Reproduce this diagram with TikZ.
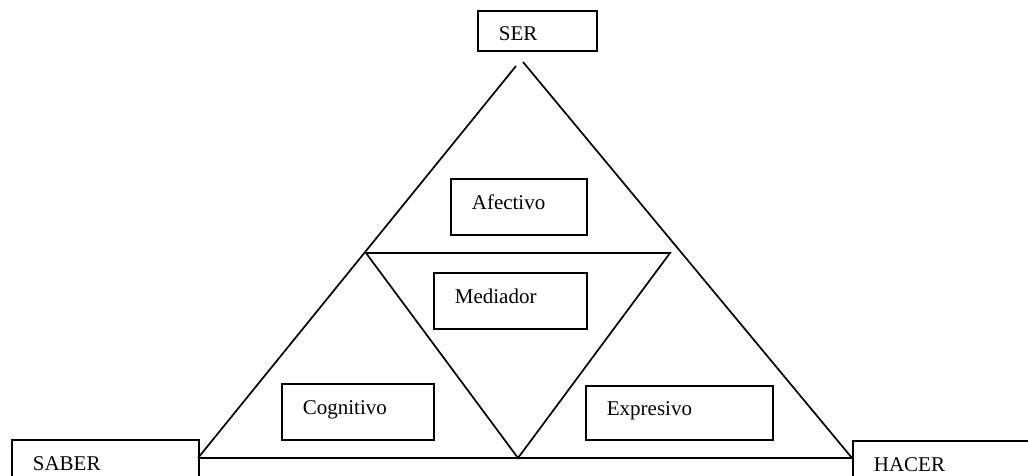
\documentclass[tikz,border=0pt]{standalone}
\usepackage{fontspec}
\setmainfont{Liberation Serif}
\tikzset{
  caja/.style={draw, line width=1.7pt, anchor=north west, inner xsep=21pt, inner ysep=0pt,
    align=left, text height=14pt, text depth=8pt, minimum height=56pt,
    font=\fontsize{21}{24}\selectfont},
  lado/.style={line width=1.7pt}
}
\begin{document}
\begin{tikzpicture}[x=1pt,y=-1pt]
    \useasboundingbox (0,0) rectangle (1028,476);
    \clip (0,0) rectangle (1028,476);

    % vertices
    \coordinate (cimaI) at (516,66);
    \coordinate (cimaD) at (523,62);
    \coordinate (izq) at (198,458);
    \coordinate (der) at (852,458);
    \coordinate (medI) at (366,253);
    \coordinate (medD) at (670,253);
    \coordinate (medB) at (518,458);

    % outer triangle
    \draw[lado] (izq) -- (cimaI);
    \draw[lado] (cimaD) -- (der);
    \draw[lado] (izq) -- (der);
    % inner triangle
    \draw[lado] (medI) -- (medD) -- (medB) -- cycle;

    % boxes
    \node[caja, text width=77pt, minimum height=40pt, text height=20pt, text depth=0pt] (ser) at (477,10) {SER};
    \node[caja, text width=94pt] (afectivo) at (450,178) {Afectivo};
    \node[caja, text width=111pt] (mediador) at (433,272) {Mediador};
    \node[caja, text width=110pt] (cognitivo) at (281,383) {Cognitivo};
    \node[caja, text width=145pt, minimum height=54pt] (expresivo) at (585,385) {Expresivo};
    \node[caja, text width=145pt] (saber) at (11,439) {SABER};
    \node[caja, text width=160pt] (hacer) at (852,440) {HACER};
\end{tikzpicture}
\end{document}
